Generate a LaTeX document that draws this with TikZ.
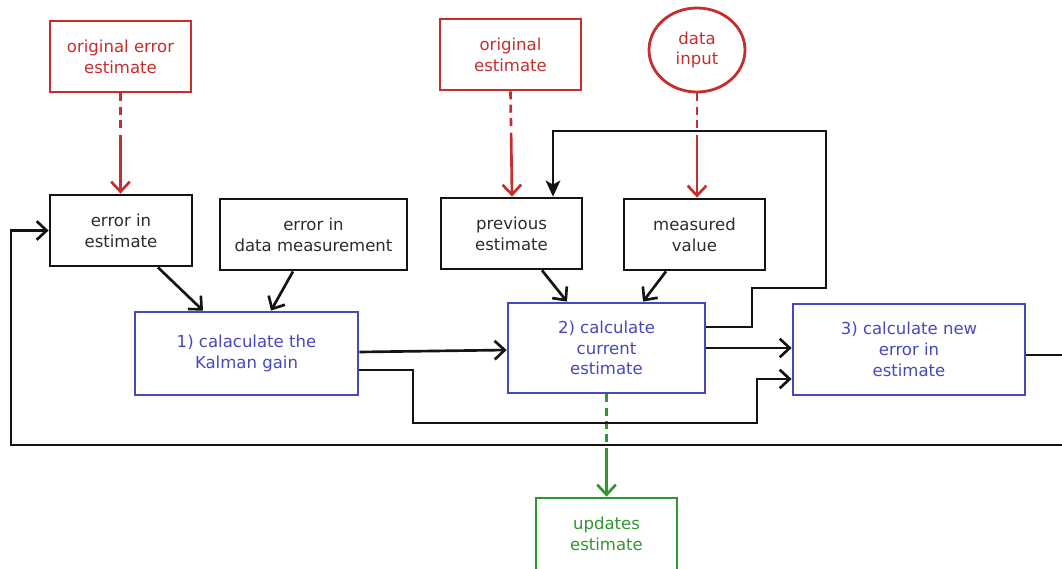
\documentclass[tikz,border=0pt]{standalone}
\usepackage{fontspec}
\setmainfont{DejaVu Sans}
\usetikzlibrary{arrows.meta,calc,shapes.geometric}
\definecolor{kred}{RGB}{200,45,45}
\definecolor{kblue}{RGB}{72,72,190}
\definecolor{kgreen}{RGB}{48,150,48}
\definecolor{kblack}{RGB}{20,20,20}
\tikzset{
  base/.style={draw, line width=2.1pt, align=center, inner sep=0pt,
    font=\fontsize{12.4pt}{15.6pt}\selectfont},
  redbox/.style={base, rectangle, draw=kred, text=kred},
  redell/.style={base, ellipse, draw=kred, text=kred},
  blackbox/.style={base, rectangle, draw=kblack, text=kblack!90},
  bluebox/.style={base, rectangle, draw=kblue, text=kblue},
  greenbox/.style={base, rectangle, draw=kgreen, text=kgreen},
  conn/.style={line width=2pt, draw=kblack, -{Straight Barb[length=7.5pt,width=14pt,line width=2pt]}},
  fconn/.style={line width=2pt, draw=kblack, -{Stealth[length=12pt,width=11pt,inset=3pt]}},
  reddash/.style={line width=2pt, draw=kred, dash pattern=on 6pt off 4pt on 6pt off 4pt on 6pt off 5pt on 300pt,
    -{Straight Barb[length=7.5pt,width=14pt,line width=2pt]}},
  greendash/.style={line width=2pt, draw=kgreen, dash pattern=on 6pt off 4pt on 6pt off 4pt on 6pt off 4pt on 6pt off 4pt on 300pt,
    -{Straight Barb[length=7.5pt,width=14pt,line width=2pt]}},
}
\begin{document}
\begin{tikzpicture}[x=0.75pt,y=-0.75pt]
\useasboundingbox (0,0) rectangle (1062,568);
% nodes
\node[redbox, minimum width=105.75pt, minimum height=53.25pt] (oee) at (120.5,56.5) {original error\\estimate};
\node[redbox, minimum width=105.75pt, minimum height=53.25pt] (oe) at (510.5,54.5) {original\\estimate};
\node[redell, minimum width=72pt, minimum height=63pt] (di) at (697,50) {data\\input};
\node[blackbox, minimum width=106.5pt, minimum height=53.25pt] (eie) at (121,230.5) {error in\\estimate};
\node[blackbox, minimum width=140.25pt, minimum height=53.25pt] (edm) at (313.5,234.5) {error in\\data measurement};
\node[blackbox, minimum width=105.75pt, minimum height=53.25pt] (pe) at (511.5,233.5) {previous\\estimate};
\node[blackbox, minimum width=105.75pt, minimum height=53.25pt] (mv) at (694.5,234.5) {measured\\value};
\node[bluebox, minimum width=167.25pt, minimum height=62.25pt] (kg) at (246.5,353.5) {1) calaculate the\\Kalman gain};
\node[bluebox, minimum width=147.75pt, minimum height=67.5pt] (cce) at (606.5,348) {2) calculate\\current\\estimate};
\node[bluebox, minimum width=174pt, minimum height=68.25pt] (cne) at (909,349.5) {3) calculate new\\error in\\estimate};
\node[greenbox, minimum width=105.75pt, minimum height=60pt] (ue) at (606.5,538) {};
\node[text=kgreen, align=center, font=\fontsize{12.4pt}{15.6pt}\selectfont, inner sep=0pt] (uet) at (606.5,533.5) {updates\\estimate};
% helper coordinates
\coordinate (b1) at (413,423);
\coordinate (b2) at (757,423);
\coordinate (l1) at (752,288);
\coordinate (l2) at (826,131);
\coordinate (r1) at (1075,445);
\coordinate (r2) at (11,445);
% dashed inputs
\draw[reddash] (oee.south) -- (oee.south |- eie.north);
\draw[reddash] (oe.south) -- ($(pe.north)+(0.5,0)$);
\draw[reddash] (di.south) -- (di.south |- mv.north);
\draw[greendash] (cce.south) -- (cce.south |- ue.north);
% black connectors
\draw[conn] ($(eie.south)+(37,0)$) -- ($(kg.north)+(-43.5,0)$);
\draw[conn] ($(edm.south)+(-20.5,0)$) -- ($(kg.north)+(24.5,0)$);
\draw[conn] ($(pe.south)+(30.5,0)$) -- ($(cce.north)+(-39.5,0)$);
\draw[conn] ($(mv.south)+(-28.5,0)$) -- ($(cce.north)+(36.5,0)$);
\draw[conn] ($(kg.east)+(0,-1.5)$) -- ($(cce.west)+(0,2)$);
\draw[conn] ($(kg.east)+(0,16.5)$) -| (b1) -- (b2) |- ($(cne.west)+(0,29.5)$);
\draw[conn] (cce.east) -- (cne.west |- cce.east);
\draw[fconn] ($(cce.east)+(0,-21)$) -| (l1) -| (l2) -| ($(pe.north)+(41.5,0)$);
\draw[conn] ($(cne.east)+(0,5.5)$) -| (r1) -- (r2) |- (eie.west);
\end{tikzpicture}
\end{document}
